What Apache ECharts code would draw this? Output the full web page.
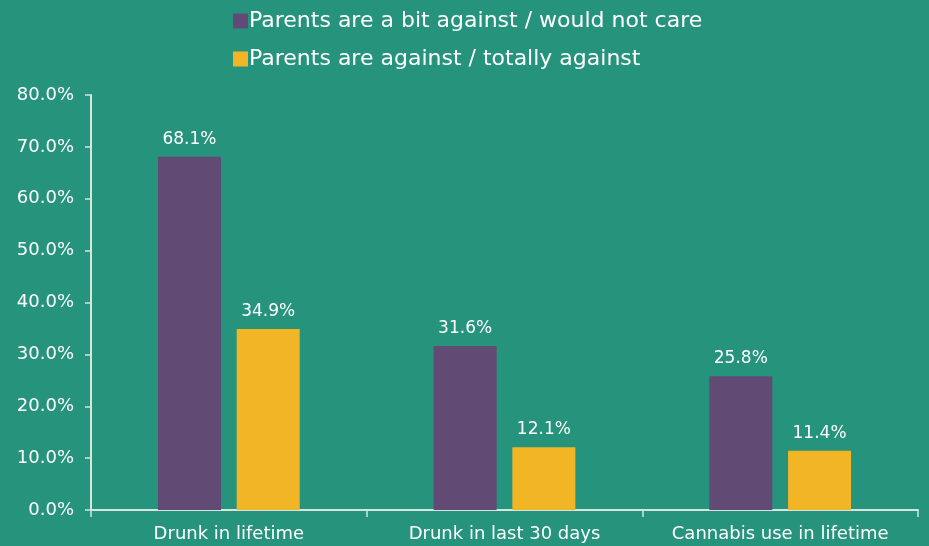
<!DOCTYPE html>
<html>
<head>
<meta charset="utf-8">
<script src="https://cdn.jsdelivr.net/npm/echarts@6/dist/echarts.min.js"></script>
<style>
html,body{margin:0;padding:0;background:#26937D;}
#c{width:929px;height:546px;}
</style>
</head>
<body>
<div id="c"></div>
<script>
const categories = ["Drunk in lifetime", "Drunk in last 30 days", "Cannabis use in lifetime"];
const seriesNames = ["Parents are a bit against / would not care", "Parents are against / totally against"];
const bitAgainst = [68.1, 31.6, 25.8];
const totallyAgainst = [34.9, 12.1, 11.4];
const yTicks = [0, 10, 20, 30, 40, 50, 60, 70, 80];

const FONT = "'DejaVu Sans', 'Noto Sans', sans-serif";
const chart = echarts.init(document.getElementById('c'), null, {renderer: 'canvas'});
const labelCfg = {
  show: true, position: 'top', distance: 9, color: '#ffffff',
  fontFamily: FONT, fontSize: 17,
  formatter: p => p.value.toFixed(1) + '%'
};
chart.setOption({
  backgroundColor: '#26937D',
  animation: false,
  legend: {
    orient: 'vertical',
    left: 228, top: 5,
    itemWidth: 15, itemHeight: 15, itemGap: 16,
    icon: 'rect',
    textStyle: {color: '#ffffff', fontFamily: FONT, fontSize: 22, padding: [0,0,0,-4]},
    data: seriesNames
  },
  grid: {left: 91, right: 11, top: 95, bottom: 36, containLabel: false},
  xAxis: {
    type: 'category', data: categories,
    axisLine: {lineStyle: {color: '#d5e6e1', width: 2}},
    axisTick: {show: true, interval: 0, alignWithLabel: false, length: 7, lineStyle: {color: '#d5e6e1', width: 1.5}},
    axisLabel: {color: '#ffffff', fontFamily: FONT, fontSize: 18, margin: 15, interval: 0, hideOverlap: false}
  },
  yAxis: {
    type: 'value', min: yTicks[0], max: yTicks[yTicks.length-1], interval: 10,
    axisLine: {show: true, lineStyle: {color: '#d5e6e1', width: 2}},
    axisTick: {show: true, length: 6, lineStyle: {color: '#d5e6e1', width: 1.5}},
    splitLine: {show: false},
    axisLabel: {color: '#ffffff', fontFamily: FONT, fontSize: 18, margin: 17,
      formatter: v => v.toFixed(1) + '%'}
  },
  series: [
    {name: seriesNames[0], type: 'bar', data: bitAgainst, barWidth: 63, barGap: '25%',
     itemStyle: {color: '#614A74'}, label: labelCfg},
    {name: seriesNames[1], type: 'bar', data: totallyAgainst, barWidth: 63,
     itemStyle: {color: '#F2B526'}, label: labelCfg}
  ]
});
</script>
</body>
</html>
